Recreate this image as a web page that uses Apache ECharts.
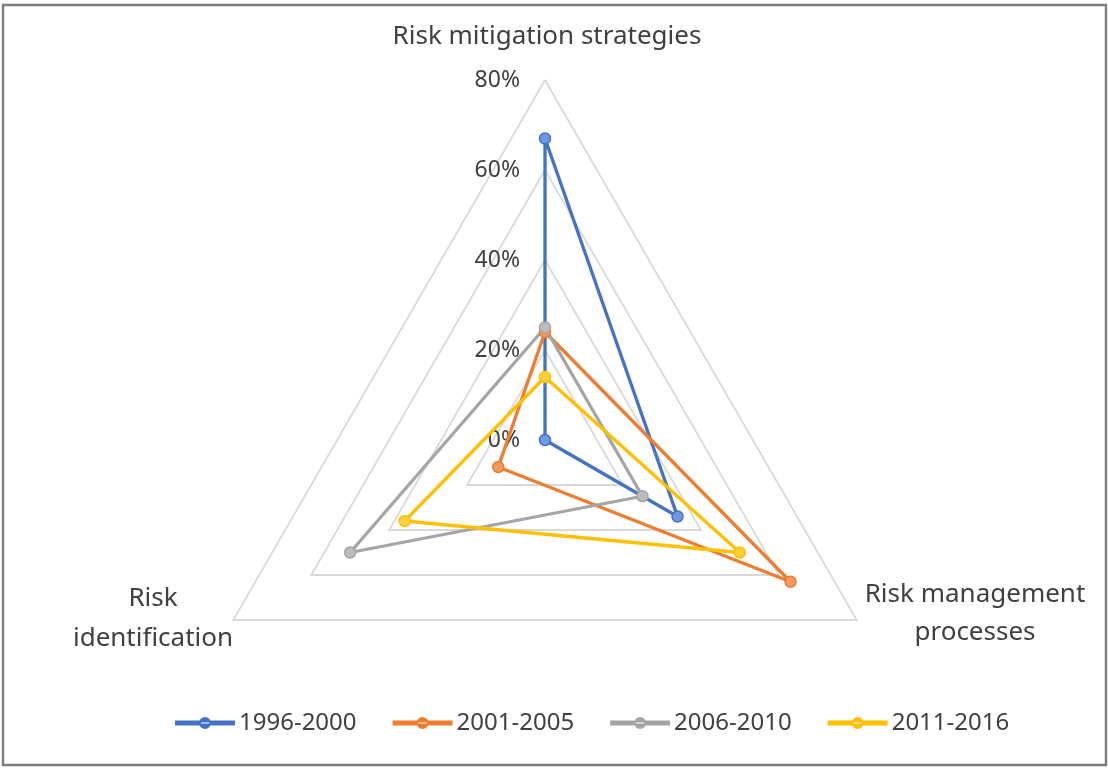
<!DOCTYPE html>
<html>
<head>
<meta charset="utf-8">
<script src="https://cdn.jsdelivr.net/npm/echarts@6/dist/echarts.min.js"></script>
<style>
html,body{margin:0;padding:0;background:#fff;}
#chart{width:1108px;height:769px;}
</style>
</head>
<body>
<div id="chart"></div>
<script>
// Indicator order follows ECharts' counter-clockwise placement: top, bottom-left, bottom-right
const indicators = ['Risk mitigation strategies', 'Risk identification', 'Risk management processes'];
const indicatorLabels = ['Risk mitigation strategies', 'Risk\nidentification', 'Risk management\nprocesses'];
const periods = ['1996-2000', '2001-2005', '2006-2010', '2011-2016'];
const v1996_2000 = [67, 0, 34];
const v2001_2005 = [24, 12, 63];
const v2006_2010 = [25, 50, 25];
const v2011_2016 = [14, 36, 50];
const seriesValues = [v1996_2000, v2001_2005, v2006_2010, v2011_2016];
const tickValues = [0, 20, 40, 60, 80];

const lineColors = ['#4472C4', '#ED7D31', '#A5A5A5', '#FFC000'];
const markerFill = ['#6f98e2', '#f29a62', '#bcbcbc', '#ffcf3d'];
const textColor = '#404040';
const fontFamily = '"Noto Sans", "Open Sans", sans-serif';

const chart = echarts.init(document.getElementById('chart'), null, {renderer: 'canvas'});

const legendIcon = 'path://M0,4.5 L58,4.5 L58,7.5 L0,7.5 Z M24,6 A5,5 0 1,0 34,6 A5,5 0 1,0 24,6 Z';

const option = {
  backgroundColor: '#ffffff',
  animation: false,
  textStyle: {fontFamily: fontFamily},
  legend: {
    left: 170,
    top: 706,
    itemWidth: 58,
    itemHeight: 12,
    itemGap: 36,
    icon: legendIcon,
    textStyle: {color: textColor, fontSize: 24, fontFamily: fontFamily},
    data: periods.map((p, i) => ({name: p, itemStyle: {color: lineColors[i]}}))
  },
  radar: {
    center: [545, 440],
    radius: 360,
    startAngle: 90,
    shape: 'polygon',
    splitNumber: 4,
    indicator: indicators.map((name, i) => {
      const ind = {name: name, min: 0, max: tickValues[tickValues.length - 1]};
      if (i > 0) ind.axisLabel = {show: false};
      return ind;
    }),
    axisName: {show: false},
    axisLine: {show: false},
    axisTick: {show: false},
    splitArea: {show: false},
    splitLine: {lineStyle: {color: '#d9d9d9', width: 1.8}},
    axisLabel: {
      show: true,
      formatter: '{value}%',
      color: textColor,
      fontSize: 23,
      fontFamily: fontFamily,
      margin: 25
    }
  },
  graphic: [
    {type: 'rect', shape: {x: 3, y: 5, width: 1103, height: 760}, style: {fill: 'none', stroke: '#7f7f7f', lineWidth: 2.5}, silent: true, z: -1},
    {type: 'text', x: 547, y: 37, style: {text: indicatorLabels[0], fill: textColor, font: '26px ' + fontFamily, align: 'center', verticalAlign: 'middle'}},
    {type: 'text', x: 153, y: 619, style: {text: indicatorLabels[1], fill: textColor, font: '26px ' + fontFamily, align: 'center', verticalAlign: 'middle', lineHeight: 40}},
    {type: 'text', x: 975, y: 614, style: {text: indicatorLabels[2], fill: textColor, font: '26px ' + fontFamily, align: 'center', verticalAlign: 'middle', lineHeight: 38}}
  ],
  series: periods.map((p, i) => ({
    type: 'radar',
    name: p,
    symbol: 'circle',
    symbolSize: 11,
    lineStyle: {color: lineColors[i], width: 3.3},
    itemStyle: {color: markerFill[i], borderColor: lineColors[i], borderWidth: 1.5},
    emphasis: {disabled: true},
    data: [{name: p, value: seriesValues[i]}]
  }))
};

chart.setOption(option);
</script>
</body>
</html>
